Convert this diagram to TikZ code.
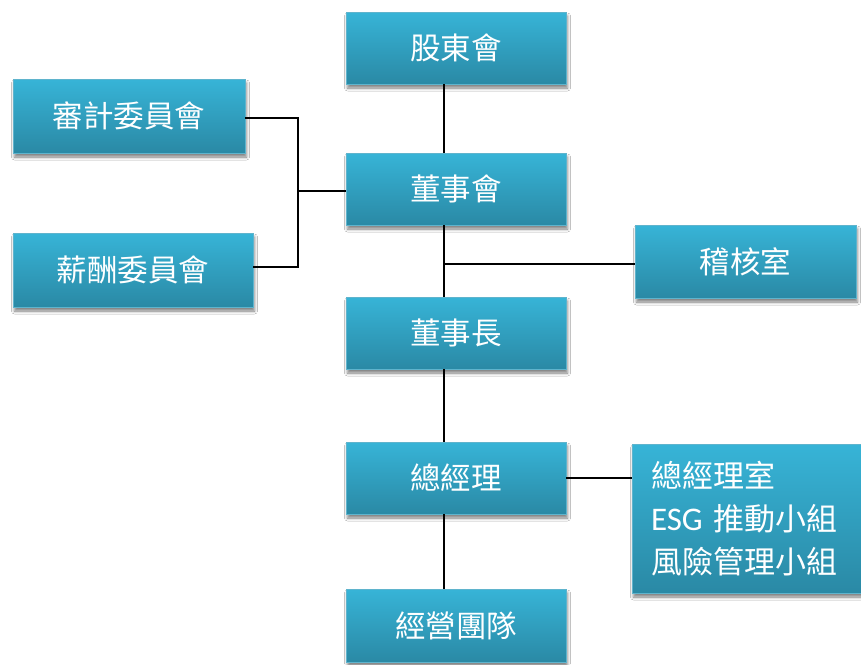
\documentclass[tikz,border=0pt]{standalone}
\usepackage{fontspec}
\setmainfont{Noto Sans CJK TC}
\newfontfamily\latfont{Carlito}
\usetikzlibrary{shadows.blur,calc}
\definecolor{boxtop}{RGB}{55,180,215}
\definecolor{boxbot}{RGB}{42,137,165}
\definecolor{boxedge}{RGB}{95,180,205}
\tikzset{
  orgbox/.style={draw=boxedge, line width=0.8pt, top color=boxtop, bottom color=boxbot,
    text=white, font=\fontsize{30.5}{36}\selectfont, inner sep=0pt,
    blur shadow={shadow xshift=1.5pt, shadow yshift=-4pt, shadow blur radius=3pt, shadow opacity=50}},
  link/.style={line width=1.6pt, black}
}
\begin{document}
\begin{tikzpicture}[x=1pt,y=-1pt]
\useasboundingbox (0,0) rectangle (861,664);
\fill[white] (0,0) rectangle (861,664);
\node[orgbox, minimum width=220pt, minimum height=72pt] (gd) at (456,48) {股東會};
\node[orgbox, minimum width=220pt, minimum height=72pt] (bd) at (456,189) {董事會};
\node[orgbox, minimum width=220pt, minimum height=72pt] (chair) at (456,333) {董事長};
\node[orgbox, minimum width=220pt, minimum height=72pt] (gm) at (456,478) {總經理};
\node[orgbox, minimum width=220pt, minimum height=73pt] (team) at (456,625.5) {經營團隊};
\node[orgbox, minimum width=232pt, minimum height=74pt] (audit) at (129,116) {審計委員會};
\node[orgbox, minimum width=240pt, minimum height=74pt] (comp) at (133,270) {薪酬委員會};
\node[orgbox, minimum width=221pt, minimum height=73pt] (internal) at (745.5,261.5) {稽核室};
\node[orgbox, minimum width=234pt, minimum height=149pt, align=left, text width=196pt,
  font=\fontsize{31}{43}\selectfont] (office) at (749,518.5)
  {總經理室\\{\latfont\fontsize{33}{43}\selectfont ESG} 推動小組\\風險管理小組};
\coordinate (spine) at (444,0);
\coordinate (brk) at (298,191);
\coordinate (ialine) at (0,264);
\coordinate (auline) at (0,118);
\coordinate (coline) at (0,267);
\draw[link] (gd.south -| spine) -- (bd.north -| spine);
\draw[link] (bd.south -| spine) -- (chair.north -| spine);
\draw[link] (chair.south -| spine) -- (gm.north -| spine);
\draw[link] (gm.south -| spine) -- (team.north -| spine);
\draw[link] (internal.west |- ialine) -- (spine |- ialine);
\draw[link] (audit.east |- auline) -| (brk |- coline) -- (comp.east |- coline);
\draw[link] (brk) -- (bd.west |- brk);
\draw[link] (gm.east) -- (gm.east -| office.west);
\end{tikzpicture}
\end{document}
